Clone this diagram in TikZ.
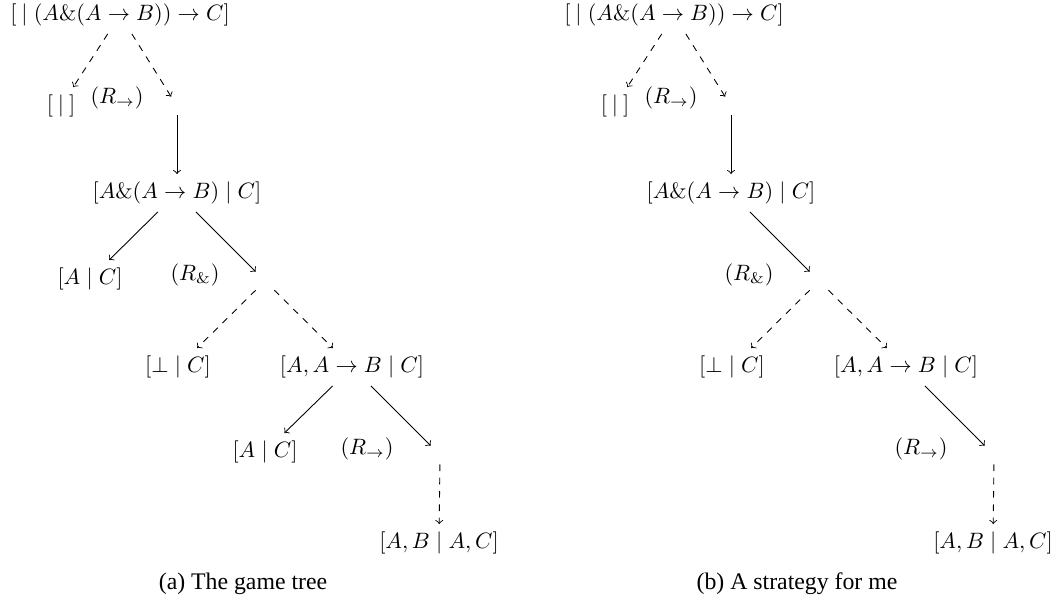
\documentclass[tikz,border=0pt]{standalone}
\usepackage[no-math]{fontspec}
\newfontfamily\capfont{Liberation Serif}
\begin{document}
\begin{tikzpicture}[x=0.45pt,y=-0.45pt,
  seq/.style={inner sep=0.3333em},
  gap/.style={inner sep=0pt,minimum size=8pt},
  lbl/.style={inner sep=0pt},
  capt/.style={inner sep=0pt,font=\capfont\fontsize{10.7}{13}\selectfont},
  mine/.style={->,dashed},
  theirs/.style={->}]
\useasboundingbox (0,0) rectangle (1055,604);
% (a) game tree
\begin{scope}
\node[seq] (a0) at (120,15) {$[\:\mid (A\&(A\to B))\to C]$};
\node[seq] (a1) at (61,106) {$[\:\mid\:]$};
\node[lbl] (ar1) at (117,98) {$(R_{\to})$};
\node[gap] (ap1) at (177,106) {};
\node[seq] (a2) at (177,193) {$[A\&(A\to B)\mid C]$};
\node[seq] (a3) at (90,279) {$[A\mid C]$};
\node[lbl] (ar2) at (195,275) {$(R_{\&})$};
\node[gap] (ap2) at (265,281) {};
\node[seq] (a4) at (178,367) {$[\bot\mid C]$};
\node[seq] (a5) at (352,367) {$[A,A\to B\mid C]$};
\node[seq] (a6) at (265,452) {$[A\mid C]$};
\node[lbl] (ar3) at (367,449) {$(R_{\to})$};
\node[gap] (ap3) at (440,455) {};
\node[seq] (a7) at (439,543) {$[A,B\mid A,C]$};
\node[capt] (acap) at (243,584) {(a) The game tree};
\draw[mine] (a0) -- (a1);
\draw[mine] (a0) -- (ap1);
\draw[theirs] (ap1) -- (a2);
\draw[theirs] (a2) -- (a3);
\draw[theirs] (a2) -- (ap2);
\draw[mine] (ap2) -- (a4);
\draw[mine] (ap2) -- (a5);
\draw[theirs] (a5) -- (a6);
\draw[theirs] (a5) -- (ap3);
\draw[mine] (ap3) -- (a7);
\end{scope}
% (b) strategy
\begin{scope}[xshift=554*0.45pt]
\node[seq] (b0) at (120,15) {$[\:\mid (A\&(A\to B))\to C]$};
\node[seq] (b1) at (61,106) {$[\:\mid\:]$};
\node[lbl] (br1) at (117,98) {$(R_{\to})$};
\node[gap] (bp1) at (177,106) {};
\node[seq] (b2) at (177,193) {$[A\&(A\to B)\mid C]$};
\node[lbl] (br2) at (195,275) {$(R_{\&})$};
\node[gap] (bp2) at (265,281) {};
\node[seq] (b4) at (178,367) {$[\bot\mid C]$};
\node[seq] (b5) at (352,367) {$[A,A\to B\mid C]$};
\node[lbl] (br3) at (367,449) {$(R_{\to})$};
\node[gap] (bp3) at (440,455) {};
\node[seq] (b7) at (439,543) {$[A,B\mid A,C]$};
\node[capt] (bcap) at (243,584) {(b) A strategy for me};
\draw[mine] (b0) -- (b1);
\draw[mine] (b0) -- (bp1);
\draw[theirs] (bp1) -- (b2);
\draw[theirs] (b2) -- (bp2);
\draw[mine] (bp2) -- (b4);
\draw[mine] (bp2) -- (b5);
\draw[theirs] (b5) -- (bp3);
\draw[mine] (bp3) -- (b7);
\end{scope}
\end{tikzpicture}
\end{document}
